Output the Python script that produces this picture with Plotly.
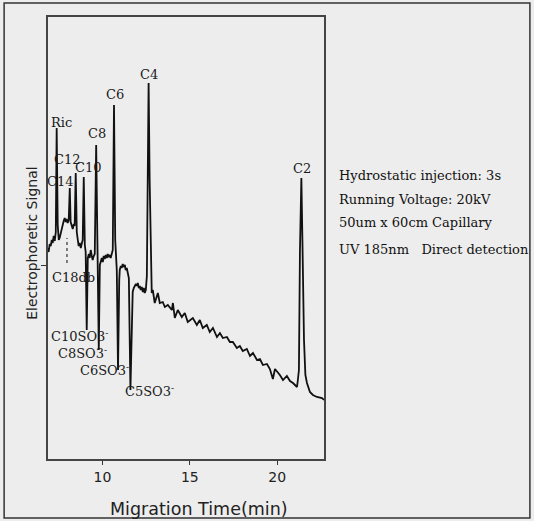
import plotly.graph_objects as go

# Migration time (min) and electrophoretic signal (a.u.)
time_min = [
    6.87, 6.92, 6.98, 7.04, 7.10, 7.15, 7.21, 7.27, 7.33, 7.38, 7.44, 7.50, 7.55, 7.61,
    7.67, 7.73, 7.78, 7.84, 7.90, 7.95, 8.01, 8.07, 8.13, 8.18, 8.24, 8.30, 8.36, 8.41,
    8.47, 8.53, 8.59, 8.64, 8.70, 8.76, 8.81, 8.87, 8.93, 8.99, 9.04, 9.10, 9.16, 9.22,
    9.27, 9.33, 9.39, 9.44, 9.50, 9.56, 9.64, 9.70, 9.79, 9.85, 9.90, 9.96, 10.02, 10.07,
    10.13, 10.19, 10.25, 10.30, 10.36, 10.42, 10.47, 10.53, 10.59, 10.66, 10.73, 10.82,
    10.89, 10.96, 10.99, 11.05, 11.10, 11.16, 11.22, 11.28, 11.33, 11.39, 11.45, 11.51,
    11.60, 11.68, 11.73, 11.79, 11.85, 11.91, 11.96, 12.02, 12.08, 12.14, 12.19, 12.25,
    12.31, 12.37, 12.42, 12.48, 12.54, 12.59, 12.64, 12.70, 12.77, 12.82, 12.88, 12.99,
    13.17, 13.28, 13.45, 13.57, 13.74, 13.97, 14.03, 14.14, 14.31, 14.54, 14.71, 14.88,
    15.17, 15.40, 15.57, 15.74, 15.97, 16.14, 16.32, 16.55, 16.72, 16.89, 17.12, 17.29,
    17.46, 17.69, 17.86, 18.03, 18.26, 18.44, 18.61, 18.84, 19.01, 19.18, 19.41, 19.58,
    19.75, 19.87, 20.15, 20.33, 20.55, 20.73, 20.90, 21.13, 21.18, 21.24, 21.30, 21.38,
    21.44, 21.53, 21.61, 21.70, 21.87, 22.04, 22.27, 22.56, 22.67,
]
signal = [
    211, 207, 215, 213, 219, 216, 223, 218, 227, 331, 234, 219, 221, 226,
    230, 235, 238, 241, 237, 240, 236, 239, 271, 237, 233, 230, 235, 233,
    286, 227, 219, 213, 216, 211, 215, 219, 282, 214, 207, 129, 201, 205,
    201, 209, 203, 199, 203, 205, 314, 219, 109, 194, 197, 201, 197, 203,
    200, 204, 201, 205, 202, 204, 201, 205, 209, 354, 219, 189,
    89, 179, 189, 193, 191, 195, 192, 194, 189, 191, 185, 181,
    69, 159, 167, 171, 173, 175, 173, 176, 171, 173, 169, 172,
    167, 171, 166, 169, 183, 259, 376, 279, 189, 166, 169, 156,
    166, 156, 157, 152, 154, 149, 156, 141, 149, 142, 146, 137,
    141, 134, 139, 131, 134, 127, 131, 122, 126, 121, 122, 117,
    117, 111, 113, 108, 110, 103, 106, 99, 100, 94, 95, 90,
    80, 90, 84, 79, 83, 78, 76, 72, 79, 89, 209, 281,
    219, 119, 84, 76, 67, 64, 62, 61, 59,
]

# Peak labels (text, time, signal)
peak_labels = ["Ric", "C14", "C12", "C10", "C8", "C6", "C4", "C2", "C18db",
               "C10SO3<sup>-</sup>", "C8SO3<sup>-</sup>", "C6SO3<sup>-</sup>", "C5SO3<sup>-</sup>"]
label_time = [7.67, 7.61, 8.01, 9.22, 9.67, 10.70, 12.65, 21.44, 8.36, 8.70, 8.87, 10.13, 12.71]
label_signal = [337, 278, 300, 292, 326, 365, 385, 291, 182, 123, 106, 89, 68]

# C18db marker (dotted line)
c18db_time = 7.97
c18db_signal = [196, 221]

conditions = ["Hydrostatic injection: 3s", "Running Voltage: 20kV",
              "50um x 60cm Capillary", "UV 185nm   Direct detection"]

x_ticks = [10, 15, 20]

fig = go.Figure()
fig.add_trace(go.Scatter(x=time_min, y=signal, mode="lines",
                         line=dict(color="#111111", width=1.8), hoverinfo="skip"))

serif = "DejaVu Serif, serif"
sans = "DejaVu Sans, sans-serif"

for txt, t, s in zip(peak_labels, label_time, label_signal):
    fig.add_annotation(x=t, y=s, text=txt, showarrow=False,
                       font=dict(family=serif, size=13, color="#1a1a1a"))

fig.add_shape(type="line", x0=c18db_time, x1=c18db_time, y0=c18db_signal[0], y1=c18db_signal[1],
              line=dict(color="#333333", width=1.2, dash="dot"))

cond_y = [0.6425, 0.588, 0.534, 0.475]
for txt, yy in zip(conditions, cond_y):
    fig.add_annotation(xref="paper", yref="paper", x=1.047, y=yy, text=txt, showarrow=False,
                       xanchor="left", yanchor="middle",
                       font=dict(family=serif, size=13, color="#111111"))

# axis titles
fig.add_annotation(xref="paper", yref="paper", x=0.547, y=-0.113, text="Migration Time(min)",
                   showarrow=False, xanchor="center", yanchor="middle",
                   font=dict(family=sans, size=17.5, color="#222"))
fig.add_annotation(xref="paper", yref="paper", x=-0.058, y=0.489, text="Electrophoretic Signal",
                   showarrow=False, xanchor="center", yanchor="middle", textangle=-90,
                   font=dict(family=sans, size=14, color="#222"))

# outer frame
fig.add_shape(type="rect", xref="paper", yref="paper", x0=-0.159, x1=1.746, y0=-0.1335, y1=1.0317,
              line=dict(color="#333333", width=1.5), fillcolor="rgba(0,0,0,0)", layer="below")

fig.update_layout(
    width=534, height=521,
    margin=dict(l=48, r=210, t=17, b=62, autoexpand=False),
    paper_bgcolor="#ededed", plot_bgcolor="#ededed",
    showlegend=False,
    xaxis=dict(range=[6.884, 22.675], tickvals=x_ticks, ticks="outside", ticklen=4,
               tickcolor="#333", showgrid=False, zeroline=False,
               showline=True, linecolor="#444", linewidth=1.5, mirror=True,
               tickfont=dict(family=sans, size=14, color="#222")),
    yaxis=dict(range=[0, 442], tickvals=[194], ticktext=[""], ticks="outside", ticklen=5,
               tickcolor="#333", showgrid=False, zeroline=False,
               showline=True, linecolor="#444", linewidth=1.5, mirror=True),
)

fig.write_html("out.html", config={"displayModeBar": False},
               post_script="document.body.style.margin='0';document.body.style.background='#ededed';")
